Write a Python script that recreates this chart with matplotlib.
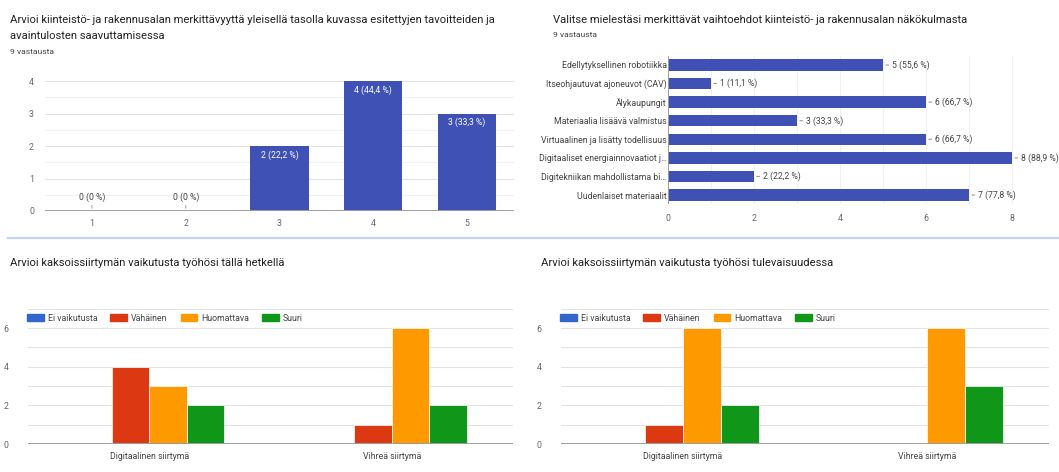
import numpy as np
import matplotlib
matplotlib.use("Agg")
import matplotlib.pyplot as plt
from matplotlib.lines import Line2D
from matplotlib.patches import Patch
from matplotlib.ticker import MultipleLocator

plt.rcParams['font.family'] = ['Roboto', 'DejaVu Sans']

# --- data ---
title1 = ["Arvioi kiinteistö- ja rakennusalan merkittävyyttä yleisellä tasolla kuvassa esitettyjen tavoitteiden ja",
          "avaintulosten saavuttamisessa"]
scale_cats = ["1", "2", "3", "4", "5"]
scale_vals = [0, 0, 2, 4, 3]
scale_pcts = ["0 %", "0 %", "22,2 %", "44,4 %", "33,3 %"]

title2 = "Valitse mielestäsi merkittävät vaihtoehdot kiinteistö- ja rakennusalan näkökulmasta"
opt_labels = ["Edellytyksellinen robotiikka", "Itseohjautuvat ajoneuvot (CAV)", "Älykaupungit",
              "Materiaalia lisäävä valmistus", "Virtuaalinen ja lisätty todellisuus",
              "Digitaaliset energiainnovaatiot j…", "Digitekniikan mahdollistama bi…",
              "Uudenlaiset materiaalit"]
opt_vals = [5, 1, 6, 3, 6, 8, 2, 7]
opt_pcts = ["55,6 %", "11,1 %", "66,7 %", "33,3 %", "66,7 %", "88,9 %", "22,2 %", "77,8 %"]

groups = ["Digitaalinen siirtymä", "Vihreä siirtymä"]
levels = ["Ei vaikutusta", "Vähäinen", "Huomattava", "Suuri"]
title3 = "Arvioi kaksoissiirtymän vaikutusta työhösi tällä hetkellä"
now_vals = [[0, 4, 3, 2], [0, 1, 6, 2]]
title4 = "Arvioi kaksoissiirtymän vaikutusta työhösi tulevaisuudessa"
future_vals = [[0, 1, 6, 2], [0, 0, 6, 3]]

level_colors = ["#3366cc", "#dc3912", "#ff9900", "#109618"]
bar_blue = "#3f51b5"
title_col = "#202124"
tick_col = "#666666"
lab_col = "#444444"
grid_major = "#e3e3e3"
grid_minor = "#f1f1f1"
base_col = "#9e9e9e"
TFS = 8.15

W, H = 1059, 472
fig = plt.figure(figsize=(W / 100, H / 100), dpi=100)


def rect(l, t, r, b):
    return [l / W, 1 - b / H, (r - l) / W, (b - t) / H]


def ftext(x, y, s, **kw):
    fig.text(x / W, 1 - y / H, s, **kw)


def clean(ax):
    for s in ax.spines.values():
        s.set_visible(False)
    ax.tick_params(which="both", length=0, labelsize=6.3, labelcolor=tick_col)
    ax.set_axisbelow(True)


# separator
fig.add_artist(Line2D([8 / W, 1], [1 - 238 / H, 1 - 238 / H], color="#c2d3f2", lw=1.6))

# --- panel 1 ---
ftext(10, 20, title1[0], fontsize=TFS, color=title_col, va="center")
ftext(10, 36, title1[1], fontsize=TFS, color=title_col, va="center")
ftext(10, 52, "9 vastausta", fontsize=6.1, color=lab_col, va="center")

ax1 = fig.add_axes(rect(45, 81, 514, 211))
clean(ax1)
x1 = np.arange(len(scale_cats))
ax1.bar(x1, scale_vals, width=0.62, color=bar_blue)
ax1.set_xlim(-0.5, len(scale_cats) - 0.5)
ax1.set_ylim(0, 4)
ax1.set_xticks(x1, scale_cats)
ax1.yaxis.set_major_locator(MultipleLocator(1))
ax1.yaxis.set_minor_locator(MultipleLocator(0.5))
ax1.grid(axis="y", which="major", color=grid_major, lw=0.8)
ax1.grid(axis="y", which="minor", color=grid_minor, lw=0.8)
ax1.tick_params(axis="x", pad=6)
ax1.tick_params(axis="y", pad=8)
ax1.axhline(0, color=base_col, lw=1.4, zorder=3)
for xi, v, p in zip(x1, scale_vals, scale_pcts):
    s = "%d (%s)" % (v, p)
    if v > 0:
        ax1.annotate(s, (xi, v), xytext=(0, -3), textcoords="offset points",
                     ha="center", va="top", fontsize=6.2, color="white")
    else:
        ax1.annotate("", (xi, 0), xytext=(0, 6), textcoords="offset points",
                     arrowprops=dict(arrowstyle="-", color="#aaaaaa", lw=0.8))
        ax1.annotate(s, (xi, 0), xytext=(0, 10), textcoords="offset points",
                     ha="center", va="center", fontsize=6.2, color=lab_col)

# --- panel 2 ---
ftext(553, 20, title2, fontsize=TFS, color=title_col, va="center")
ftext(553, 35, "9 vastausta", fontsize=6.1, color=lab_col, va="center")

ax2 = fig.add_axes(rect(668, 55.7, 1053, 204.3))
clean(ax2)
y2 = np.arange(len(opt_labels))
ax2.barh(y2, opt_vals, height=0.62, color=bar_blue)
ax2.set_ylim(len(opt_labels) - 0.5, -0.5)
ax2.set_xlim(0, 8.95)
ax2.set_yticks(y2, opt_labels)
ax2.xaxis.set_major_locator(MultipleLocator(2))
ax2.xaxis.set_minor_locator(MultipleLocator(1))
ax2.grid(axis="x", which="both", color=grid_minor, lw=0.8)
ax2.tick_params(axis="y", pad=1, labelcolor=lab_col)
ax2.tick_params(axis="x", pad=7)
ax2.axvline(0, color=base_col, lw=1.4, zorder=3)
for yi, v, p in zip(y2, opt_vals, opt_pcts):
    ax2.annotate("", (v, yi), xytext=(6, 0), textcoords="offset points",
                 arrowprops=dict(arrowstyle="-", color="#999999", lw=0.8))
    ax2.annotate("%d (%s)" % (v, p), (v, yi), xytext=(6.5, 0), textcoords="offset points",
                 ha="left", va="center", fontsize=6.2, color=lab_col, annotation_clip=False)


# --- panels 3 & 4 ---
def grouped(l, r, title, tx, vals):
    ftext(tx, 263, title, fontsize=TFS, color=title_col, va="center")
    ax = fig.add_axes(rect(l, 308.7, r, 444))
    clean(ax)
    w = 0.155
    xg = np.arange(len(groups))
    for k, (lev, col) in enumerate(zip(levels, level_colors)):
        hs = [vals[g][k] for g in range(len(groups))]
        ax.bar(xg + (k - 1.5) * w, hs, width=w, color=col, edgecolor="white", lw=0.5)
    ax.set_xlim(-0.5, len(groups) - 0.5)
    ax.set_ylim(0, 7)
    ax.set_xticks(xg, groups)
    ax.yaxis.set_major_locator(MultipleLocator(2))
    ax.yaxis.set_minor_locator(MultipleLocator(1))
    ax.grid(axis="y", which="both", color=grid_major, lw=0.8)
    ax.tick_params(axis="x", pad=6, labelcolor=lab_col)
    ax.tick_params(axis="y", pad=14)
    ax.axhline(0, color=base_col, lw=1.4, zorder=3)
    handles = [Patch(color=c) for c in level_colors]
    leg = ax.legend(handles, levels, ncol=4, loc="center left", bbox_to_anchor=(-0.009, 0.93),
                    frameon=False, fontsize=6.3, handlelength=1.9, handleheight=0.8,
                    handletextpad=0.45, columnspacing=1.5, borderaxespad=0)
    for t in leg.get_texts():
        t.set_color(lab_col)
    return ax


grouped(28, 513, title3, 10, now_vals)
grouped(561, 1049, title4, 541, future_vals)

fig.savefig("out.png", dpi=100)
